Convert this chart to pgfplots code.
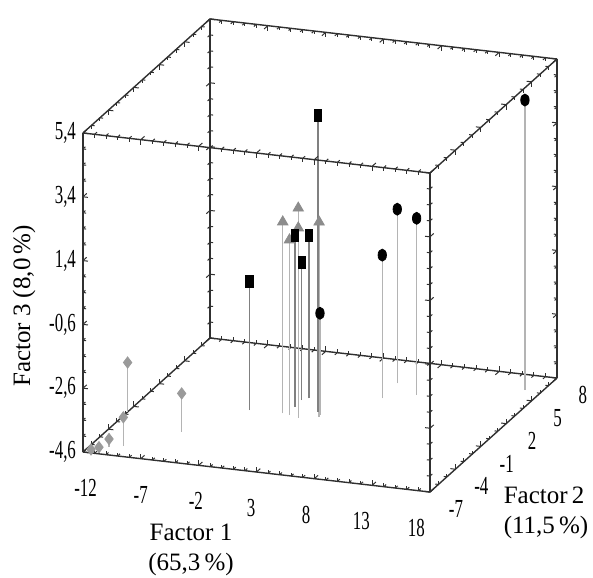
\documentclass[border=0pt]{standalone}
\usepackage{fontspec}
\setmainfont{Liberation Serif}
\newfontfamily\condfont{Liberation Serif}[FakeStretch=0.65]
\usepackage{pgfplots}
\pgfplotsset{compat=1.18}
\definecolor{edge}{HTML}{303030}
\definecolor{stemgray}{HTML}{B4B4B4}
\definecolor{diagray}{HTML}{9A9A9A}
\definecolor{trigray}{HTML}{8C8C8C}

\begin{document}
\begin{tikzpicture}
\begin{axis}[
  x={(5.783pt,-0.667pt)}, y={(4.233pt,3.8pt)}, z={(0pt,15.95pt)},
  xmin=-12, xmax=18, ymin=-7, ymax=8, zmin=-4.6, zmax=5.4,
  3d box=complete,
  clip=false,
  unbounded coords=jump,
  axis line style={edge, line width=0.7pt},
  tick style={edge, line width=0.5pt},
  major tick length=2.5pt, minor tick length=1.6pt,
  xtick={-12,-7,-2,3,8,13,18}, xticklabels={-12,-7,-2,3,8,13,18},
  ytick={-7,-4,-1,2,5,8}, yticklabels={-7,-4,-1,2,5,8},
  ztick={-4.6,-2.6,-0.6,1.4,3.4,5.4},
  zticklabels={{-4,6},{-2,6},{-0,6},{1,4},{3,4},{5,4}},
  minor x tick num=4, minor y tick num=2, minor z tick num=3,
  tick label style={font=\condfont\fontsize{13}{14}\selectfont},
  xticklabel style={anchor=center, xshift={(1.3-1.35*\ticknum)*1pt}, yshift=-18pt},
  yticklabel style={anchor=center, xshift=13pt, yshift=-8.5pt},
  zticklabel style={anchor=east, xshift=0pt},
]
% stems down to the floor
\addplot3[stemgray, line width=0.7pt, no marks] coordinates {
  (-12.0,-1.73,-4.6) (-12.0,-1.73,-3.05) (0,0,nan)
  (-6.17,-3.31,-4.6) (-6.17,-3.31,-3.40) (0,0,nan)
  (-9.42,-5.76,-4.6) (-9.42,-5.76,-3.70) (0,0,nan)
  (-10.43,-6.07,-4.6) (-10.43,-6.07,-4.35) (0,0,nan)
  (-10.86,-6.67,-4.6) (-10.86,-6.67,-4.48) (0,0,nan)
  (0.0,0.2,-4.6) (0.0,0.2,1.4) (0,0,nan)
  (1.48,0.01,-4.6) (1.48,0.01,1.94) (0,0,nan)
  (1.59,-0.14,-4.6) (1.59,-0.14,1.36) (0,0,nan)
  (0.66,0.09,-4.6) (0.66,0.09,0.89) (0,0,nan)
  (3.1,0.26,-4.6) (3.1,0.26,1.51) (0,0,nan)
  (3.0,0.5,-4.6) (3.0,0.5,-1.41) (0,0,nan)
  (6.35,3.28,-4.6) (6.35,3.28,-0.11) (0,0,nan)
  (6.22,5.23,-4.6) (6.22,5.23,0.86) (0,0,nan)
  (8.7,4.13,-4.6) (8.7,4.13,0.94) (0,0,nan)
  (16.57,6.17,-4.6) (16.57,6.17,4.49)
};
\addplot3[gray, line width=0.7pt, no marks] coordinates {
  (2.6,0.83,-4.6) (2.6,0.83,4.71) (0,0,nan)
  (-2.84,0.13,-4.6) (-2.84,0.13,-0.58) (0,0,nan)
  (0.37,1.13,-4.6) (0.37,1.13,0.78) (0,0,nan)
  (0.75,2.3,-4.6) (0.75,2.3,0.52) (0,0,nan)
  (0.32,2.0,-4.6) (0.32,2.0,-0.3)
};
% markers
\addplot3[only marks, mark=diamond*, mark size=2.8pt, color=diagray] coordinates {
  (-12.0,-1.73,-3.05) (-6.17,-3.31,-3.40) (-9.42,-5.76,-3.70)
  (-10.43,-6.07,-4.35) (-10.86,-6.67,-4.48) (-11.47,-6.78,-4.55)
};
\addplot3[only marks, mark=triangle*, mark size=3pt, color=trigray] coordinates {
  (0.0,0.2,1.4) (1.48,0.01,1.94) (1.59,-0.14,1.36) (0.66,0.09,0.89) (3.1,0.26,1.51)
};
\addplot3[only marks, mark=square*, mark size=3pt, mark options={xscale=0.6}, color=black] coordinates {
  (2.6,0.83,4.71) (-2.84,0.13,-0.58) (0.37,1.13,0.78) (0.75,2.3,0.52) (0.32,2.0,-0.3)
};
\addplot3[only marks, mark=*, mark size=3pt, mark options={xscale=0.7}, color=black] coordinates {
  (3.0,0.5,-1.41) (6.35,3.28,-0.11) (6.22,5.23,0.86) (8.7,4.13,0.94) (16.57,6.17,4.49)
};
\coordinate (O) at (axis cs:-12,-7,-4.6);
\end{axis}
\node[font=\fontsize{12.5}{15}\selectfont, align=center, shift={(54pt,-49pt)}] at (O) {Factor 1\\(65,3\,\%)};
\node[font=\fontsize{12.5}{15}\selectfont, align=left, shift={(231.5pt,-30.5pt)}] at (O) {Factor\,2\\(11,5\,\%)};
\node[font=\fontsize{12.5}{15}\selectfont, rotate=90, shift={(73pt,29.5pt)}] at (O) {Factor 3 (8,0\,\%)};
\pgfresetboundingbox
\path[use as bounding box] (O) ++(-41.5pt,-62.5pt) rectangle ++(296.5pt,288.5pt);
\end{tikzpicture}
\end{document}
